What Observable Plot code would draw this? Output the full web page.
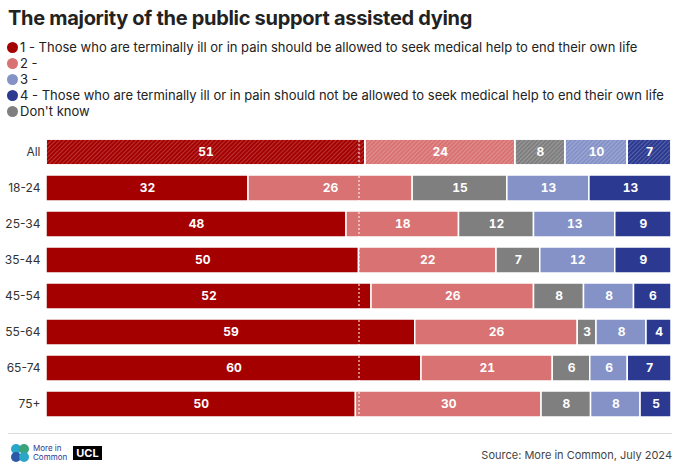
<!DOCTYPE html>
<html><head><meta charset="utf-8">
<script src="https://cdn.jsdelivr.net/npm/d3@7"></script>
<script src="https://cdn.jsdelivr.net/npm/@observablehq/plot@0.6"></script>
<style>
body{margin:0;background:#fff;font-family:Inter,"Noto Sans",sans-serif;color:#222;}
#wrap{width:680px;padding:0 0 0 0;position:relative}
h1{font-size:20px;font-weight:700;margin:0;padding:6px 0 0 8px;letter-spacing:-0.3px}
.leg{font-size:13px;padding-left:7px;line-height:16px;margin-top:9px}
.leg div{display:flex;align-items:center}
.dot{width:11px;height:11px;border-radius:50%;display:inline-block;margin-right:2px}
.foot{border-top:1px solid #ddd;margin:0 8px 0 8px;height:40px;position:relative;font-size:11px}
</style></head><body><div id="wrap">
<h1>The majority of the public support assisted dying</h1>
<div class="leg" id="leg"></div>
<div id="chart"></div>
<div class="foot">
<div style="position:absolute;left:2px;top:9px;display:flex;align-items:center">
<svg width="20" height="20"><circle cx="6" cy="6" r="5" fill="#2aa6c9"/><circle cx="14" cy="6" r="5" fill="#3aa37a"/><circle cx="6" cy="14" r="5" fill="#2b59a8"/><circle cx="14" cy="14" r="5" fill="#2aa6c9"/></svg>
<span style="font-size:8px;line-height:9px;color:#2b3990;margin-left:3px">More in<br>Common</span>
<span style="background:#000;color:#fff;font-weight:700;font-size:11px;margin-left:6px;padding:0 3px">UCL</span></div>
<div style="position:absolute;right:0;top:14px;color:#444">Source: More in Common, July 2024</div>
</div></div>
<script>
const categories=["All","18-24","25-34","35-44","45-54","55-64","65-74","75+"];
const seriesNames=["1","2","Don't know","3","4"];
const v1=[51,32,48,50,52,59,60,50];
const v2=[24,26,18,22,26,26,21,30];
const vDK=[8,15,12,7,8,3,6,8];
const v3=[10,13,13,12,8,8,6,8];
const v4=[7,13,9,9,6,4,7,5];
const colors=["#a50000","#d97272","#7f7f7f","#8592c8","#2b3990"];
const legendItems=[["#a50000","1 - Those who are terminally ill or in pain should be allowed to seek medical help to end their own life"],["#d97272","2 -"],["#8592c8","3 -"],["#2b3990","4 - Those who are terminally ill or in pain should not be allowed to seek medical help to end their own life"],["#7f7f7f","Don't know"]];
document.getElementById("leg").innerHTML=legendItems.map(([c,t])=>`<div><span class="dot" style="background:${c}"></span>${t}</div>`).join("");
const vals=[v1,v2,vDK,v3,v4];
const data=[];
categories.forEach((c,i)=>seriesNames.forEach((s,j)=>data.push({cat:c,s,v:vals[j][i]})));
const stk={x:"v",y:"cat",z:"s",order:seriesNames,offset:"normalize"};
const chart=Plot.plot({
 width:680,height:314,marginLeft:46,marginRight:9,marginTop:9,marginBottom:4,
 style:{fontFamily:"Inter,'Noto Sans',sans-serif",fontSize:"12px"},
 x:{axis:null,domain:[0,1]},
 y:{domain:categories,label:null,tickSize:0,padding:0.27,tickPadding:6},
 color:{domain:seriesNames,range:colors},
 marks:[
  Plot.barX(data,Plot.stackX({...stk,fill:"s",stroke:"white",strokeWidth:1.5})),
  Plot.barX(data.filter(d=>d.cat==="All"),Plot.stackX({...stk,fill:"url(#hatch)",stroke:"white",strokeWidth:1.5})),
  Plot.ruleX([0.5],{stroke:"white",strokeDasharray:"2,2",strokeWidth:1}),
  Plot.text(data,Plot.stackX({...stk,text:d=>d.v,fill:"white",fontWeight:"700",fontSize:12}))
 ]
});
const ns="http://www.w3.org/2000/svg";
const defs=document.createElementNS(ns,"defs");
defs.innerHTML='<pattern id="hatch" patternUnits="userSpaceOnUse" width="3" height="3" patternTransform="rotate(45)"><line x1="0" y1="0" x2="0" y2="3" stroke="rgba(255,255,255,0.35)" stroke-width="1.2"/></pattern>';
chart.insertBefore(defs,chart.firstChild);
chart.querySelectorAll("g[aria-label='y-axis tick label'] text").forEach(t=>t.setAttribute("fill","#333"));
document.getElementById("chart").appendChild(chart);
</script></body></html>
